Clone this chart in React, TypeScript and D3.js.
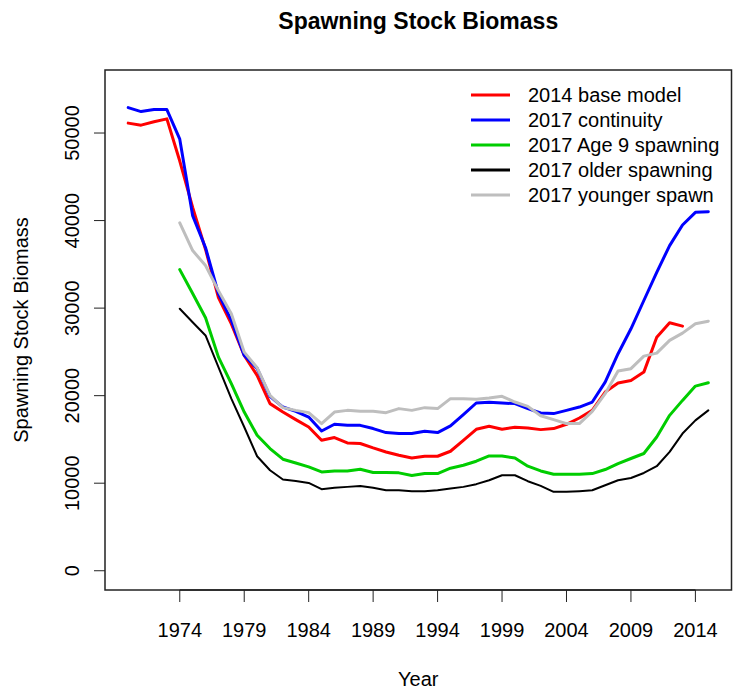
import React from 'react';
import * as d3 from 'd3';

// years for each run
const yearsFull = d3.range(1970, 2016);
const yearsBase = d3.range(1970, 2014);
const yearsLate = d3.range(1974, 2016);

const base2014 = [
  51130, 50900, 51280, 51620, 46800, 41500, 36700, 31200, 28200, 24590,
  22310, 19090, 18130, 17260, 16420, 14900, 15210, 14600, 14530, 14030,
  13570, 13190, 12880, 13080, 13080, 13650, 14900, 16160, 16500, 16160,
  16390, 16310, 16120, 16240, 16730, 17450, 18320, 20410, 21440, 21740,
  22690, 26680, 28320, 27940,
];

const continuity2017 = [
  52900, 52450, 52680, 52680, 49300, 40560, 36900, 31650, 28590, 24590,
  23110, 19920, 18700, 18210, 17560, 15960, 16730, 16610, 16610, 16240,
  15780, 15670, 15670, 15930, 15780, 16540, 17830, 19160, 19240, 19160,
  19090, 18520, 18020, 17950, 18320, 18700, 19270, 21550, 24790, 27640,
  30870, 34090, 37140, 39500, 40940, 41020,
];

const age9Spawning = [
  34400, 31660, 28900, 24400, 21370, 18130, 15470, 13960, 12740, 12310, 11860,
  11290, 11400, 11400, 11600, 11220, 11220, 11180, 10880, 11100, 11100,
  11710, 12050, 12510, 13110, 13110, 12880, 11940, 11400, 11030, 11030,
  11030, 11100, 11560, 12240, 12820, 13390, 15280, 17750, 19460, 21090, 21480,
];

const olderSpawning = [
  29920, 28390, 26880, 23260, 19660, 16420, 13080, 11480, 10420, 10260, 10030,
  9320, 9470, 9580, 9690, 9470, 9200, 9200, 9090, 9090, 9200,
  9390, 9580, 9890, 10340, 10910, 10910, 10230, 9700, 9010, 9010,
  9090, 9200, 9770, 10340, 10600, 11170, 11940, 13570, 15670, 17180, 18320,
];

const youngerSpawn = [
  39730, 36570, 34860, 32000, 29350, 24970, 23190, 20030, 18630, 18320, 18060,
  16800, 18130, 18320, 18210, 18210, 18060, 18520, 18320, 18630, 18520,
  19660, 19660, 19580, 19730, 19920, 19270, 18780, 17700, 17260, 16810,
  16810, 18210, 20230, 22810, 23080, 24520, 24860, 26310, 27140, 28210, 28510,
];

const xTicks = [1974, 1979, 1984, 1989, 1994, 1999, 2004, 2009, 2014];
const yTicks = [0, 10000, 20000, 30000, 40000, 50000];

const series = [
  { name: '2014 base model', years: yearsBase, values: base2014, color: '#FF0000', lw: 3 },
  { name: '2017 continuity', years: yearsFull, values: continuity2017, color: '#0000FF', lw: 3 },
  { name: '2017 Age 9 spawning', years: yearsLate, values: age9Spawning, color: '#00CD00', lw: 3 },
  { name: '2017 older spawning', years: yearsLate, values: olderSpawning, color: '#000000', lw: 2 },
  { name: '2017 younger spawn', years: yearsLate, values: youngerSpawn, color: '#BEBEBE', lw: 3 },
];

const W = 733;
const H = 693;
const box = { left: 105, right: 731.5, top: 70, bottom: 590 };
const font = '"Liberation Sans", Arial, Helvetica, sans-serif';

export default function App() {
  const x = d3.scaleLinear().domain([1968.2, 2016.8]).range([box.left, box.right]);
  const y = d3.scaleLinear().domain([-2200, 57200]).range([box.bottom, box.top]);

  const line = d3.line<[number, number]>()
    .x(d => x(d[0]))
    .y(d => y(d[1]));

  return (
    <svg width={W} height={H} style={{ position: 'absolute', left: 0, top: 0, background: '#fff' }}
      fontFamily={font}>
      <rect x={0} y={0} width={W} height={H} fill="#fff" />
      <text x={(box.left + box.right) / 2} y={29} textAnchor="middle" fontSize={23} fontWeight="bold">
        Spawning Stock Biomass
      </text>

      {series.map(s => (
        <path key={s.name}
          d={line(s.years.map((yr, i) => [yr, s.values[i]] as [number, number])) || ''}
          fill="none" stroke={s.color} strokeWidth={s.lw}
          strokeLinejoin="round" strokeLinecap="round" />
      ))}

      <rect x={box.left} y={box.top} width={box.right - box.left} height={box.bottom - box.top}
        fill="none" stroke="#222" strokeWidth={1.5} />

      {/* x axis */}
      <line x1={x(xTicks[0])} x2={x(xTicks[xTicks.length - 1])} y1={box.bottom} y2={box.bottom} stroke="#222" strokeWidth={1.5} />
      {xTicks.map(t => (
        <g key={t}>
          <line x1={x(t)} x2={x(t)} y1={box.bottom} y2={box.bottom + 12} stroke="#222" strokeWidth={1} />
          <text x={x(t)} y={637} textAnchor="middle" fontSize={20}>{t}</text>
        </g>
      ))}
      <text x={(box.left + box.right) / 2} y={686} textAnchor="middle" fontSize={20}>Year</text>

      {/* y axis */}
      {yTicks.map(t => (
        <g key={t}>
          <line x1={box.left - 11} x2={box.left} y1={y(t)} y2={y(t)} stroke="#222" strokeWidth={1} />
          <text transform={`translate(79, ${y(t)}) rotate(-90)`} textAnchor="middle" fontSize={20}>{t}</text>
        </g>
      ))}
      <text transform={`translate(28, ${(box.top + box.bottom) / 2}) rotate(-90)`} textAnchor="middle" fontSize={20}>
        Spawning Stock Biomass
      </text>

      {/* legend */}
      {series.map((s, i) => (
        <g key={s.name} transform={`translate(471, ${95 + i * 25})`}>
          <line x1={0} x2={39} y1={0} y2={0} stroke={s.color} strokeWidth={3} />
          <text x={57} y={7} fontSize={20}>{s.name}</text>
        </g>
      ))}
    </svg>
  );
}
